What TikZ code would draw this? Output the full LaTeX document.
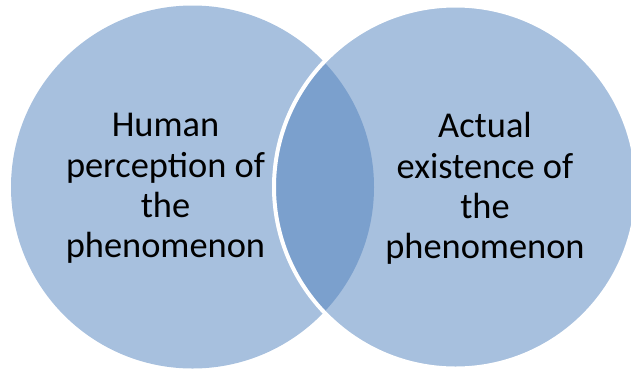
\documentclass[tikz,border=0pt]{standalone}
\usepackage{fontspec}
\setmainfont{Carlito}
\definecolor{vennfill}{HTML}{A7C0DE}
\definecolor{vennlens}{HTML}{7BA0CD}
\tikzset{
  venncircle/.style={circle, minimum size=363pt, inner sep=0pt, fill=vennfill},
  vennlabel/.style={align=center, inner sep=0pt, font=\fontsize{36.4}{40.4}\selectfont}
}
\begin{document}
\begin{tikzpicture}[x=1pt,y=-1pt]
\useasboundingbox (0,0) rectangle (631,373);
\clip (0,0) rectangle (631,373);
% two overlapping circles
\coordinate (lc) at (192.5,187);
\coordinate (rc) at (455.5,187);
\node[venncircle] (perception) at (lc) {};
\node[venncircle] (existence) at (rc) {};
\begin{scope}
\clip (lc) circle[radius=181.5];
\fill[vennlens] (rc) circle[radius=181.5];
\end{scope}
\draw[white, line width=4pt] (rc) circle[radius=181.5];
% labels
\node[vennlabel] (human) at (165.5,188.5) {Human\\perception of\\the\\phenomenon};
\node[vennlabel] (actual) at (485,188.5) {Actual\\existence of\\the\\phenomenon};
\end{tikzpicture}
\end{document}
